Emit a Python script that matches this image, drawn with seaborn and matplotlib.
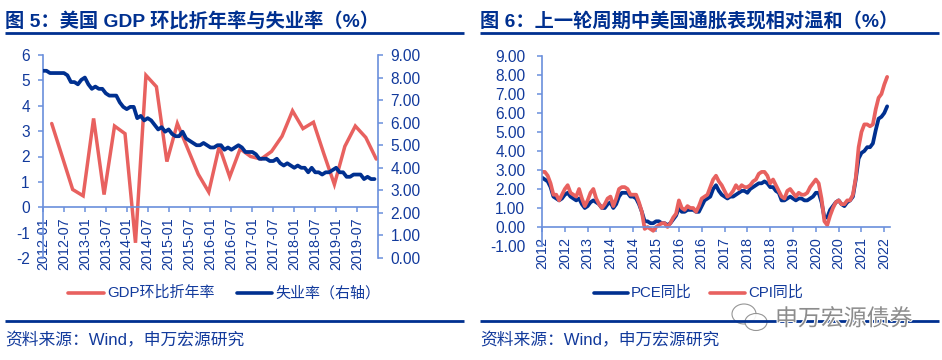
import numpy as np
import matplotlib
matplotlib.use("Agg")
import matplotlib.pyplot as plt
import matplotlib.patheffects as pe
from matplotlib.lines import Line2D
from matplotlib.patches import Ellipse
import seaborn as sns

sns.set_theme(style="white")
FONT = ['Liberation Sans', 'Noto Sans CJK SC', 'DejaVu Sans']
plt.rcParams['font.family'] = FONT
plt.rcParams['axes.unicode_minus'] = False

# ---- data ----
gdp_growth = [3.3, 2.0, 0.7, 0.45, 3.5, 0.5, 3.2, 2.9, -1.4, 5.2, 4.75, 1.8, 3.3, 2.3, 1.3, 0.6,
              2.4, 1.2, 2.3, 2.0, 1.9, 2.2, 2.8, 3.8, 3.1, 3.35, 2.1, 0.9, 2.4, 3.2, 2.75, 1.9]
unemployment = [8.3, 8.3, 8.2, 8.2, 8.2, 8.2, 8.2, 8.1, 7.8, 7.8, 7.7, 7.9,
                8.0, 7.7, 7.5, 7.6, 7.5, 7.5, 7.3, 7.2, 7.2, 7.2, 6.9, 6.7,
                6.6, 6.7, 6.7, 6.2, 6.3, 6.1, 6.2, 6.1, 5.9, 5.7, 5.8, 5.6,
                5.7, 5.5, 5.4, 5.4, 5.6, 5.3, 5.2, 5.1, 5.0, 5.0, 5.1, 5.0,
                4.9, 4.9, 5.0, 5.0, 4.8, 4.9, 4.8, 4.9, 5.0, 4.9, 4.7, 4.7,
                4.7, 4.6, 4.4, 4.4, 4.4, 4.3, 4.3, 4.4, 4.2, 4.1, 4.2, 4.1,
                4.0, 4.1, 4.0, 4.0, 3.8, 4.0, 3.8, 3.8, 3.7, 3.8, 3.8, 3.9,
                4.0, 3.8, 3.8, 3.6, 3.6, 3.7, 3.7, 3.7, 3.5, 3.6, 3.5, 3.5]
left_ticks = ['2012-01', '2012-07', '2013-01', '2013-07', '2014-01', '2014-07', '2015-01', '2015-07',
              '2016-01', '2016-07', '2017-01', '2017-07', '2018-01', '2018-07', '2019-01', '2019-07']
pce = [2.6, 2.5, 2.4, 2.1, 1.6, 1.5, 1.4, 1.5, 1.7, 1.8, 1.6, 1.5,
       1.4, 1.5, 1.2, 1.0, 1.1, 1.3, 1.4, 1.3, 1.2, 1.0, 1.0, 1.2,
       1.3, 1.0, 1.2, 1.6, 1.8, 1.8, 1.8, 1.6, 1.6, 1.5, 1.2, 0.8,
       0.3, 0.3, 0.2, 0.2, 0.3, 0.3, 0.2, 0.2, 0.1, 0.2, 0.4, 0.6,
       1.0, 0.8, 0.8, 0.9, 0.9, 0.9, 0.8, 0.8, 1.1, 1.4, 1.5, 1.6,
       2.0, 2.2, 1.9, 1.7, 1.6, 1.5, 1.6, 1.6, 1.7, 1.8, 1.9, 1.9,
       1.8, 2.0, 2.1, 2.2, 2.3, 2.3, 2.4, 2.3, 2.1, 2.1, 1.9, 1.8,
       1.4, 1.4, 1.5, 1.6, 1.5, 1.4, 1.5, 1.5, 1.4, 1.4, 1.5, 1.6,
       1.8, 1.8, 1.3, 0.5, 0.5, 0.9, 1.1, 1.3, 1.4, 1.2, 1.1, 1.3,
       1.4, 1.6, 2.5, 3.6, 3.9, 4.0, 4.2, 4.2, 4.4, 5.1, 5.7, 5.8,
       6.0, 6.35]
cpi = [2.9, 2.9, 2.7, 2.3, 1.7, 1.7, 1.4, 1.7, 2.0, 2.2, 1.8, 1.7,
       1.6, 2.0, 1.5, 1.1, 1.4, 1.8, 2.0, 1.5, 1.2, 1.0, 1.2, 1.5,
       1.6, 1.1, 1.5, 2.0, 2.1, 2.1, 2.0, 1.7, 1.7, 1.7, 1.3, 0.8,
       -0.1, 0.0, -0.1, -0.2, 0.0, 0.1, 0.2, 0.2, 0.0, 0.2, 0.5, 0.7,
       1.4, 1.0, 0.9, 1.1, 1.0, 1.0, 0.8, 1.1, 1.5, 1.6, 1.7, 2.1,
       2.5, 2.7, 2.4, 2.2, 1.9, 1.6, 1.7, 1.9, 2.2, 2.0, 2.2, 2.1,
       2.1, 2.2, 2.4, 2.5, 2.8, 2.9, 2.9, 2.7, 2.3, 2.5, 2.2, 1.9,
       1.6, 1.5, 1.9, 2.0, 1.8, 1.6, 1.8, 1.7, 1.7, 1.8, 2.1, 2.3,
       2.5, 2.3, 1.5, 0.3, 0.1, 0.6, 1.0, 1.3, 1.4, 1.2, 1.2, 1.4,
       1.4, 1.7, 2.6, 4.2, 5.0, 5.4, 5.4, 5.3, 5.4, 6.2, 6.8, 7.0,
       7.5, 7.9]
right_ticks = ['2012', '2012', '2013', '2014', '2014', '2015', '2016', '2016',
               '2017', '2018', '2018', '2019', '2020', '2020', '2021', '2022']
title_left = '图 5：美国 GDP 环比折年率与失业率（%）'
title_right = '图 6：上一轮周期中美国通胀表现相对温和（%）'
source = '资料来源：Wind，申万宏源研究'
watermark = '申万宏源债券'

# ---- styles ----
W, H = 942, 360
NAVY = '#003090'
TXT = '#123A9C'
RED = '#E8615F'
AX = '#6A8FDC'

fig = plt.figure(figsize=(W / 100, H / 100), dpi=100, facecolor='white')


def axes_px(x0, x1, ytop, ybot):
    return fig.add_axes([x0 / W, 1 - ybot / H, (x1 - x0) / W, (ybot - ytop) / H])


def style(ax, sides, ypad=6):
    ax.set_facecolor('none')
    for s, sp in ax.spines.items():
        sp.set_visible(s in sides)
        sp.set_color(AX)
        sp.set_linewidth(1.2)
    ax.tick_params(colors=TXT, labelsize=11.2, length=3.5, width=1.1, color=AX,
                   bottom=True, left=True)
    ax.tick_params(axis='y', pad=ypad)
    ax.tick_params(axis='x', labelrotation=90, pad=4, labelsize=10.4)
    ax.grid(False)
    ax.set_xlabel('')
    ax.set_ylabel('')


# ---- left chart ----
axl = axes_px(43, 378, 55, 258)
q_x = np.arange(len(gdp_growth)) * 3 + 2.5
m_x = np.arange(len(unemployment))
sns.lineplot(x=q_x, y=gdp_growth, ax=axl, color=RED, linewidth=2.5, legend=False,
             errorbar=None, solid_capstyle='round', solid_joinstyle='miter')
axl.set_xlim(0, 96)
axl.set_ylim(-2, 6)
axl.set_yticks(range(-2, 7))
axl.set_xticks(np.arange(len(left_ticks)) * 6)
axl.set_xticklabels(left_ticks)
style(axl, ['left', 'bottom'])
axl.spines['bottom'].set_position(('data', 0))

axr = axl.twinx()
sns.lineplot(x=m_x, y=unemployment, ax=axr, color=NAVY, linewidth=2.7, legend=False,
             errorbar=None, solid_capstyle='round')
axr.set_ylim(0, 9)
axr.set_yticks(range(0, 10))
axr.set_yticklabels([f'{v:.2f}' for v in range(0, 10)])
style(axr, ['right'], ypad=5.5)
axr.tick_params(axis='y', right=True, left=False, labelright=True, labelleft=False)
axr.tick_params(axis='x', bottom=False, labelbottom=False)
axr.yaxis.set_label_position('right')
axr.set_xlim(0, 96)
axr.set_xlabel('')
axr.set_ylabel('')

# ---- right chart ----
ax2 = axes_px(542, 890, 56, 246)
m2 = np.arange(len(pce))
sns.lineplot(x=m2, y=pce, ax=ax2, color=NAVY, linewidth=2.7, legend=False,
             errorbar=None, solid_capstyle='round')
sns.lineplot(x=m2, y=cpi, ax=ax2, color=RED, linewidth=2.7, legend=False,
             errorbar=None, solid_capstyle='round')
ax2.set_xlim(0, 122)
ax2.set_ylim(-1, 9)
ax2.set_yticks(range(-1, 10))
ax2.set_yticklabels([f'{v:.2f}' for v in range(-1, 10)])
ax2.set_xticks(np.arange(len(right_ticks)) * 8)
ax2.set_xticklabels(right_ticks)
style(ax2, ['left', 'bottom'], ypad=8.5)
ax2.spines['bottom'].set_position(('data', 0))

# ---- furniture in figure pixels ----
def text_px(x, y, s, **kw):
    return fig.text(x / W, 1 - y / H, s, family=FONT, **kw)


def hline(x0, x1, y, lw=2.0):
    fig.add_artist(Line2D([x0 / W, x1 / W], [1 - y / H] * 2, color=NAVY, lw=lw,
                          solid_capstyle='butt'))


text_px(5, 27, title_left, fontsize=13.85, fontweight='bold', color=NAVY, va='baseline')
text_px(480, 27, title_right, fontsize=13.85, fontweight='bold', color=NAVY, va='baseline')
for x0, x1 in [(5, 464), (480, 939)]:
    hline(x0, x1, 33)
    hline(x0, x1, 321)
text_px(5, 345, source, fontsize=12.1, color=TXT, va='baseline')
text_px(480, 345, source, fontsize=12.1, color=TXT, va='baseline')


def legend_item(x0, x1, y, color, label):
    fig.add_artist(Line2D([x0 / W, x1 / W], [1 - y / H] * 2, color=color, lw=2.6,
                          solid_capstyle='round'))
    text_px(x1 + 3, y, label, fontsize=10.8, color=TXT, va='center')


legend_item(68, 104, 293, RED, 'GDP环比折年率')
legend_item(237, 272, 293, NAVY, '失业率（右轴）')
legend_item(594, 628, 293, NAVY, 'PCE同比')
legend_item(710, 745, 293, RED, 'CPI同比')

# ---- watermark ----
for cx, cy, w, h in [(744, 314, 24, 20), (756, 322, 22, 17)]:
    fig.add_artist(Ellipse((cx / W, 1 - cy / H), w / W, h / H, transform=fig.transFigure,
                           facecolor='white', edgecolor='#8A8A8A', lw=0.8, alpha=0.9))
txt = text_px(775, 319, watermark, fontsize=16.5, color='#8C8C8C', va='center')
txt.set_path_effects([pe.withStroke(linewidth=1.5, foreground='white')])

fig.savefig('out.png', dpi=100, facecolor='white')
